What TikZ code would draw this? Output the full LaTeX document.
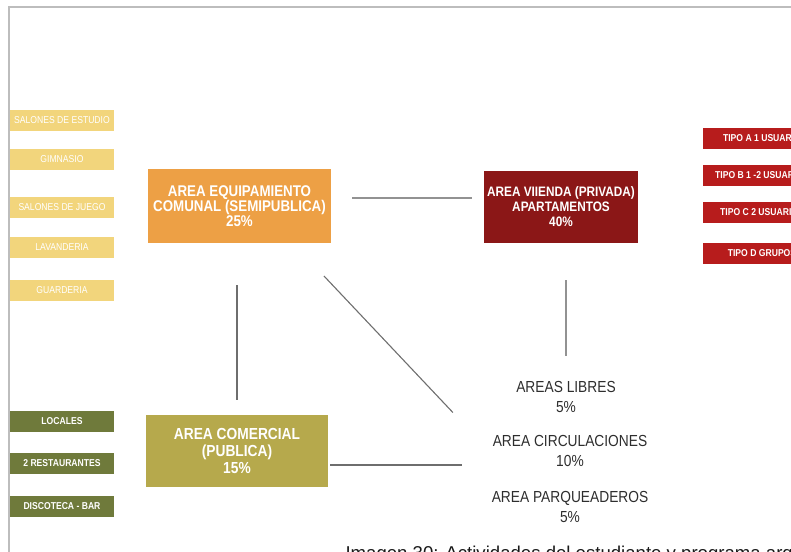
\documentclass[tikz,border=0pt]{standalone}
\usepackage{fontspec}
\setmainfont{Liberation Sans}
\newfontfamily\narrow[FakeStretch=0.86]{Liberation Sans}
\usetikzlibrary{positioning}

\definecolor{framegray}{HTML}{BDBDBD}
\definecolor{linkgray}{HTML}{6E6E6E}
\definecolor{areagray}{HTML}{2E2E2E}
\definecolor{sandyellow}{HTML}{F2D57C}
\definecolor{equiporange}{HTML}{EDA045}
\definecolor{wine}{HTML}{8B1717}
\definecolor{tipored}{HTML}{B71C1C}
\definecolor{olive}{HTML}{6F7A3B}
\definecolor{mustard}{HTML}{B6A94C}

\begin{document}
\begin{tikzpicture}[x=1pt,y=-1pt,
    bigbox/.style={rectangle, text=white, align=center, inner sep=0pt,
        font=\narrow\bfseries\fontsize{15.5}{15}\selectfont},
    smallbox/.style={rectangle, text=white, minimum height=21pt, inner sep=0pt,
        font=\narrow\bfseries\fontsize{10}{11}\selectfont},
    yellowbox/.style={smallbox, fill=sandyellow, minimum width=104pt,
        font=\narrow\fontsize{10}{11}\selectfont},
    area/.style={align=center, text=areagray, font=\narrow\fontsize{16}{20}\selectfont},
    link/.style={linkgray, line width=1.1pt}]

    \useasboundingbox (0,0) rectangle (791,551);
    \draw[framegray, line width=1.6pt] (9,7) rectangle (840,600);

    \node[bigbox, fill=equiporange, minimum width=183pt, minimum height=74pt] (equip) at (239.5,206) {AREA EQUIPAMIENTO\\COMUNAL (SEMIPUBLICA)\\25\%};
    \node[bigbox, fill=wine, minimum width=154pt, minimum height=72pt, font=\narrow\bfseries\fontsize{13.7}{15}\selectfont] (vivienda) at (561,207) {AREA VIIENDA (PRIVADA)\\APARTAMENTOS\\40\%};
    \node[bigbox, fill=mustard, minimum width=182pt, minimum height=72pt, font=\narrow\bfseries\fontsize{16}{17}\selectfont] (comercial) at (237,451) {AREA COMERCIAL\\(PUBLICA)\\15\%};

    \node[area] (libres) at (566,397) {AREAS LIBRES\\5\%};
    \node[area] (circ) at (570,451) {AREA CIRCULACIONES\\10\%};
    \node[area] (parq) at (570,507) {AREA PARQUEADEROS\\5\%};

    \node[yellowbox] (estudio) at (62,120) {SALONES DE ESTUDIO};
    \node[yellowbox] (gimnasio) at (62,159.5) {GIMNASIO};
    \node[yellowbox] (juego) at (62,207) {SALONES DE JUEGO};
    \node[yellowbox] (lavanderia) at (62,247.5) {LAVANDERIA};
    \node[yellowbox] (guarderia) at (62,290.5) {GUARDERIA};

    \node[smallbox, fill=olive, minimum width=104pt] (locales) at (62,421) {LOCALES};
    \node[smallbox, fill=olive, minimum width=104pt] (restaurantes) at (62,463) {2 RESTAURANTES};
    \node[smallbox, fill=olive, minimum width=104pt] (discoteca) at (62,506.5) {DISCOTECA - BAR};

    \node[smallbox, fill=tipored, minimum width=118pt] (tipoA) at (762,138.5) {TIPO A 1 USUARIO};
    \node[smallbox, fill=tipored, minimum width=118pt] (tipoB) at (762,175) {TIPO B 1 -2 USUARIOS};
    \node[smallbox, fill=tipored, minimum width=118pt] (tipoC) at (762,212.5) {TIPO C 2 USUARIOS};
    \node[smallbox, fill=tipored, minimum width=118pt] (tipoD) at (762,253) {TIPO D GRUPOS};

    \draw[link, linkgray!75, shorten <=21pt, shorten >=12pt] ([yshift=8pt]equip.east) -- ([yshift=8pt]equip.east -| vivienda.west);
    \draw[link, shorten <=42pt, shorten >=15pt] (equip.south -| comercial.north) -- (comercial.north);
    \draw[link, shorten <=45pt, shorten >=53pt] ([xshift=53.5pt]equip.south) -- (circ.west);
    \draw[link, shorten <=2pt, shorten >=27pt] ([yshift=-14pt]comercial.east) -- ([yshift=-14pt]comercial.east -| circ.west);
    \draw[link, linkgray!75, shorten <=22pt, shorten >=37pt] (libres.north) -- (libres.north |- vivienda.south);

    \node[anchor=base west, text=black!90, font=\fontsize{18.6}{20}\selectfont] (caption) at (342,559) {Imagen 30: Actividades del estudiante y programa arquitectónico};
\end{tikzpicture}
\end{document}
